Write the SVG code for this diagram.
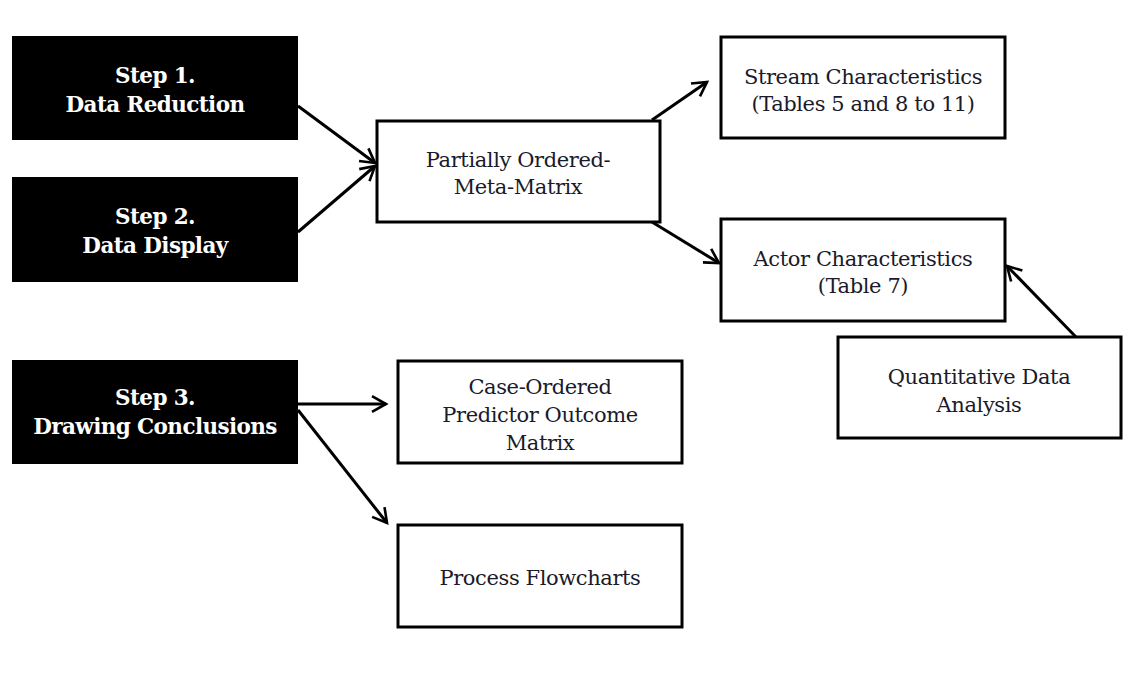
<svg xmlns="http://www.w3.org/2000/svg" width="1123" height="681" viewBox="0 0 1123 681">
  <style>
    .step rect { fill: #000; }
    .step text { fill: #fff; font-family: "DejaVu Serif", "Liberation Serif", serif; font-weight: bold; font-size: 21.5px; text-anchor: middle; letter-spacing: -0.6px; }
    .box rect { fill: #fff; stroke: #000; stroke-width: 3; }
    .box text { fill: #1a1a2a; font-family: "DejaVu Serif", "Liberation Serif", serif; font-size: 21px; text-anchor: middle; letter-spacing: -0.4px; }
    .conn line { stroke: #000; stroke-width: 3; marker-end: url(#arrow); }
  </style>
  <defs>
    <marker id="arrow" viewBox="0 0 12 12" refX="10" refY="6" markerWidth="7" markerHeight="7" markerUnits="strokeWidth" orient="auto">
      <path d="M2,1.5 L10,6 L2,10.5" fill="none" stroke="#000" stroke-width="1.5" stroke-linejoin="miter"/>
    </marker>
  </defs>
  <rect width="1123" height="681" fill="#fff"/>

  <!-- connectors -->
  <g class="conn">
    <line x1="298" y1="106" x2="375" y2="163"/>
    <line x1="298" y1="232" x2="375" y2="166"/>
    <line x1="652" y1="120" x2="707" y2="82"/>
    <line x1="652" y1="222" x2="719" y2="263"/>
    <line x1="1076" y1="337" x2="1007" y2="266"/>
    <line x1="298" y1="404" x2="386" y2="404"/>
    <line x1="298" y1="410" x2="387" y2="523"/>
  </g>

  <!-- step nodes -->
  <g id="step1" class="step">
    <rect x="12" y="36" width="286" height="104"/>
    <text x="155" y="83">Step 1.</text>
    <text x="155" y="112">Data Reduction</text>
  </g>
  <g id="step2" class="step">
    <rect x="12" y="177" width="286" height="105"/>
    <text x="155" y="224">Step 2.</text>
    <text x="155" y="253">Data Display</text>
  </g>
  <g id="step3" class="step">
    <rect x="12" y="360" width="286" height="104"/>
    <text x="155" y="405">Step 3.</text>
    <text x="155" y="434">Drawing Conclusions</text>
  </g>

  <!-- output nodes -->
  <g id="meta-matrix" class="box">
    <rect x="377" y="121" width="283" height="101"/>
    <text x="518" y="167">Partially Ordered-</text>
    <text x="518" y="194">Meta-Matrix</text>
  </g>
  <g id="stream" class="box">
    <rect x="721" y="37" width="284" height="101"/>
    <text x="863" y="84">Stream Characteristics</text>
    <text x="863" y="111">(Tables 5 and 8 to 11)</text>
  </g>
  <g id="actor" class="box">
    <rect x="721" y="219" width="284" height="102"/>
    <text x="863" y="266">Actor Characteristics</text>
    <text x="863" y="293">(Table 7)</text>
  </g>
  <g id="quantitative" class="box">
    <rect x="838" y="337" width="283" height="101"/>
    <text x="979" y="384">Quantitative Data</text>
    <text x="979" y="412">Analysis</text>
  </g>
  <g id="case-ordered" class="box">
    <rect x="398" y="361" width="284" height="102"/>
    <text x="540" y="394">Case-Ordered</text>
    <text x="540" y="422">Predictor Outcome</text>
    <text x="540" y="450">Matrix</text>
  </g>
  <g id="flowcharts" class="box">
    <rect x="398" y="525" width="284" height="102"/>
    <text x="540" y="585">Process Flowcharts</text>
  </g>
</svg>
